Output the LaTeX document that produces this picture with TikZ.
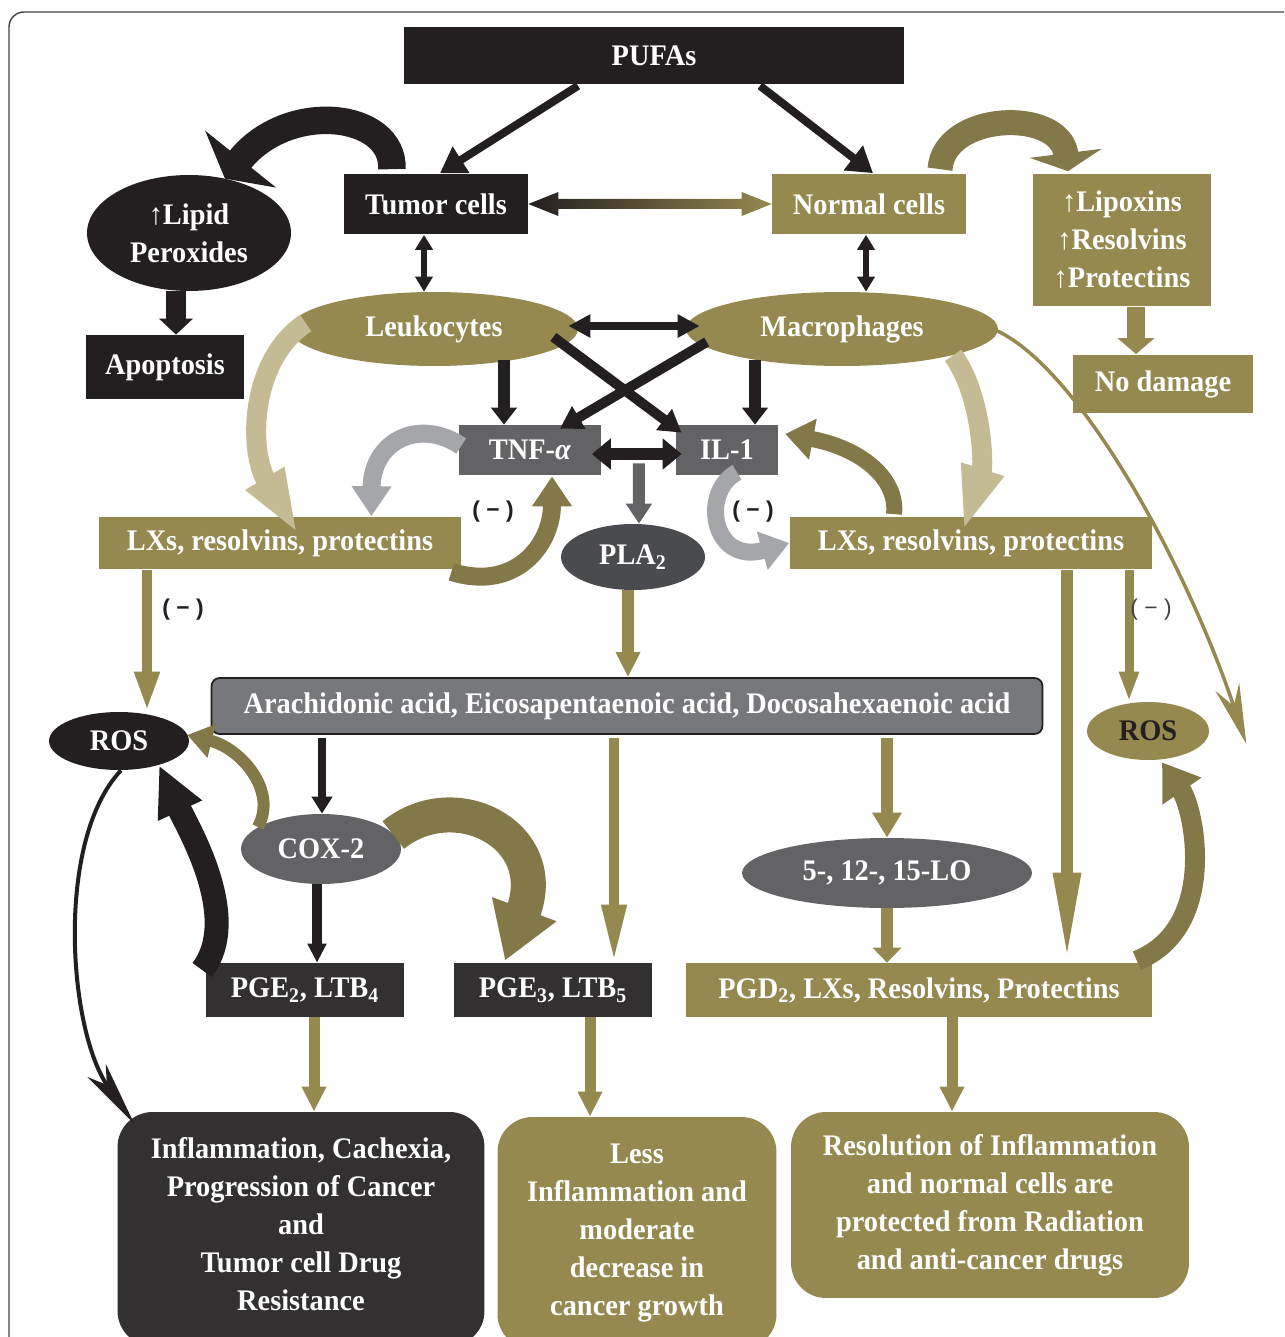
\documentclass[tikz,border=0pt]{standalone}
\usepackage{fontspec}
\setmainfont{Liberation Serif}[FakeStretch=0.95]
\newfontfamily\signfont{Liberation Sans}
\usepackage{tikz}
\usetikzlibrary{shapes.geometric, arrows.meta, calc}
\usepackage{xcolor}
\definecolor{blk}{RGB}{35,31,32}
\definecolor{olv}{RGB}{149,137,80}
\definecolor{olvmid}{RGB}{131,120,72}
\definecolor{beige}{RGB}{196,187,148}
\definecolor{greybox}{RGB}{99,99,101}
\definecolor{plagrey}{RGB}{74,75,78}
\definecolor{acidgrey}{RGB}{119,120,124}
\definecolor{pgebox}{RGB}{50,48,49}
\definecolor{curvegrey}{RGB}{165,166,170}
\newcommand{\boxfont}{\fontsize{17}{21.6}\selectfont\bfseries}

\tikzset{
  box/.style={rectangle, inner sep=0pt, text=white, font=\boxfont, align=center},
  oval/.style={box, ellipse},
  endbox/.style={box, rounded corners=0.7cm},
  sign/.style={font={\signfont\fontsize{13}{15}\selectfont\bfseries}, text=blk, inner sep=0pt},
  blkarr/.style={draw=blk, line width=0.16cm, -{Triangle[length=0.5cm,width=0.6cm]}},
  blkdbl/.style={draw=blk, line width=0.13cm, {Triangle[length=0.3cm,width=0.34cm]}-{Triangle[length=0.3cm,width=0.34cm]}},
  olarr/.style={draw=olv, line width=0.22cm, -{Triangle[length=0.5cm,width=0.46cm]}}
}

\begin{document}
\begin{tikzpicture}[x=0.02cm, y=-0.02cm]
\useasboundingbox (0,0) rectangle (1284,1337);
\clip (0,0) rectangle (1284,1337);
\draw[black!75, line width=0.8pt, rounded corners=0.3cm] (9,12) rectangle (1320,1380);

% top row
\node[box, fill=blk, minimum width=10cm, minimum height=1.14cm] (pufa) at (654,56) {PUFAs};
\node[box, fill=blk, minimum width=3.68cm, minimum height=1.22cm] (tumor) at (436,204) {Tumor cells};
\node[box, fill=olv, minimum width=3.88cm, minimum height=1.22cm] (normal) at (869,204) {Normal cells};
\node[box, fill=olv, minimum width=3.56cm, minimum height=2.66cm] (lipox) at (1122,240) {↑Lipoxins\\↑Resolvins\\↑Protectins};
\node[box, fill=olv, minimum width=3.6cm, minimum height=1.18cm] (nodmg) at (1163,384) {No damage};
\node[oval, fill=blk, minimum width=4.08cm, minimum height=2.32cm] (lipid) at (189,233) {↑Lipid\\Peroxides};
\node[box, fill=blk, minimum width=3.16cm, minimum height=1.28cm] (apop) at (165,367) {Apoptosis};

% cells and cytokines
\node[oval, fill=olv, minimum width=5.76cm, minimum height=1.48cm] (leuk) at (434,329) {Leukocytes};
\node[oval, fill=olv, minimum width=6.24cm, minimum height=1.48cm] (macro) at (842,329) {Macrophages};
\node[box, fill=greybox, minimum width=2.86cm, minimum height=1cm] (tnf) at (530,450) {TNF-\textit{α}};
\node[box, fill=greybox, minimum width=2.04cm, minimum height=1cm] (il1) at (727,450) {IL-1};
\node[oval, fill=plagrey, minimum width=2.88cm, minimum height=1.32cm] (pla) at (633,557) {PLA\textsubscript{2}};
\node[box, fill=olv, minimum width=7.24cm, minimum height=1.06cm] (lxl) at (280,543) {LXs, resolvins, protectins};
\node[box, fill=olv, minimum width=7.26cm, minimum height=1.06cm] (lxr) at (971,543) {LXs, resolvins, protectins};

% fatty acids and products
\node[box, fill=acidgrey, draw=blk, line width=1pt, rounded corners=0.16cm, minimum width=16.62cm, minimum height=1.12cm] (acid) at (627,706) {Arachidonic acid, Eicosapentaenoic acid, Docosahexaenoic acid};
\node[oval, fill=blk, minimum width=2.8cm, minimum height=1.16cm] (rosl) at (119,741) {ROS};
\node[oval, fill=olv, text=blk, minimum width=2.44cm, minimum height=1.16cm] (rosr) at (1148,731) {ROS};
\node[oval, fill=greybox, minimum width=3.2cm, minimum height=1.4cm] (cox) at (321,849) {COX-2};
\node[oval, fill=greybox, minimum width=5.8cm, minimum height=1.4cm] (lo) at (887,873) {5-, 12-, 15-LO};
\node[box, fill=pgebox, minimum width=3.98cm, minimum height=1.08cm] (pge2) at (305,990) {PGE\textsubscript{2}, LTB\textsubscript{4}};
\node[box, fill=pgebox, minimum width=3.98cm, minimum height=1.08cm] (pge3) at (553,990) {PGE\textsubscript{3}, LTB\textsubscript{5}};
\node[box, fill=olv, minimum width=9.34cm, minimum height=1.08cm] (pgd) at (919,990) {PGD\textsubscript{2}, LXs, Resolvins, Protectins};

% outcomes
\node[endbox, fill=pgebox, minimum width=7.34cm, minimum height=4.68cm] (infl) at (301,1229) {Inflammation, Cachexia,\\Progression of Cancer\\and\\Tumor cell Drug\\Resistance\\[-16pt]};
\node[endbox, fill=olv, minimum width=5.58cm, minimum height=4.64cm] (less) at (637,1233) {Less\\Inflammation and\\moderate\\decrease in\\cancer growth};
\node[endbox, fill=olv, minimum width=7.96cm, minimum height=3.72cm] (resol) at (990,1205) {Resolution of Inflammation\\and normal cells are\\protected from Radiation\\and anti-cancer drugs};

% straight connectors
\draw[blkarr] ($(pufa.south)+(-76,1)$) -- ($(tumor.north)+(4,0)$);
\draw[blkarr] ($(pufa.south)+(106,1)$) -- ($(normal.north)+(4,0)$);
\shade[left color=blk, right color=olv] (tumor.east) -- ++(30,-12) -- ++(0,7) -- ($(normal.west)+(-30,-5)$) -- ++(0,-7) -- (normal.west) -- ++(-30,12) -- ++(0,-7) -- ($(tumor.east)+(30,5)$) -- ++(0,7) -- cycle;
\draw[blkdbl] ($(tumor.south)+(-12,0)$) -- ($(leuk.north)+(-10,0)$);
\draw[blkdbl] ($(normal.south)+(-3,0)$) -- ($(macro.north)+(24,0)$);
\draw[blkdbl, line width=0.16cm, {Triangle[length=0.44cm,width=0.44cm]}-{Triangle[length=0.44cm,width=0.44cm]}] ($(leuk.east)+(-10,-3)$) -- ($(macro.west)+(14,-3)$);
\draw[blkarr, line width=0.24cm, -{Triangle[length=0.34cm,width=0.5cm]}] ($(leuk.south)+(70,-6)$) -- ($(tnf.north)+(-26,0)$);
\draw[blkarr, line width=0.24cm, -{Triangle[length=0.34cm,width=0.5cm]}] ($(macro.south)+(-87,-6)$) -- ($(il1.north)+(28,0)$);
\draw[blkarr, line width=0.2cm, -{Triangle[length=0.44cm,width=0.5cm]}] ($(leuk.east)+(-25,8)$) -- ($(il1.north west)+(6,8)$);
\draw[blkarr, line width=0.2cm, -{Triangle[length=0.44cm,width=0.5cm]}] ($(macro.west)+(21,13)$) -- ($(tnf.north east)+(-42,4)$);
\draw[blk, line width=0.26cm, {Triangle[length=0.38cm,width=0.6cm]}-{Triangle[length=0.38cm,width=0.6cm]}] ($(tnf.east)+(-10,4)$) -- ($(il1.west)+(6,4)$);
\coordinate (tnfil) at ($(tnf.south east)!0.5!(il1.south west)+(0,-12)$);
\draw[draw=greybox, line width=0.24cm, -{Triangle[length=0.4cm,width=0.5cm]}] (tnfil) -- ($(pla.north)+(6,0)$);
\draw[olarr, line width=0.24cm] ($(pla.south)+(-5,0)$) -- ($(acid.north)+(1,0)$);
\draw[blkarr, line width=0.4cm, -{Triangle[length=0.32cm,width=0.66cm]}] ($(lipid.south)+(-13,0)$) -- ($(apop.north)+(11,0)$);
\draw[olarr, line width=0.36cm, -{Triangle[length=0.32cm,width=0.72cm]}] ($(lipox.south)+(14,0)$) -- ($(nodmg.north)+(-27,0)$);
\draw[olarr, line width=0.2cm, -{Triangle[length=0.8cm,width=0.46cm]}] ($(lxl.south)+(-133,0)$) -- ($(rosl.north)+(28,0)$);
\draw[olarr, line width=0.18cm, -{Triangle[length=0.6cm,width=0.36cm]}] ($(lxr.south)+(158,0)$) -- ($(rosr.north)+(-19,0)$);
\draw[olarr, line width=0.24cm, -{Triangle[length=1.8cm,width=0.5cm]}] ($(lxr.south)+(96,0)$) -- ($(pgd.north)+(148,0)$);
\draw[blkarr, line width=0.17cm, -{Triangle[length=0.34cm,width=0.4cm]}] ($(acid.south)+(-305,3)$) -- ($(cox.north)+(1,0)$);
\draw[olarr, line width=0.2cm, -{Triangle[length=1.16cm,width=0.46cm]}] ($(acid.south)+(-13,3)$) -- ($(pge3.north)+(61,0)$);
\draw[olarr, line width=0.24cm, -{Triangle[length=0.5cm,width=0.56cm]}] ($(acid.south)+(260,3)$) -- (lo.north);
\draw[blkarr, line width=0.2cm, -{Triangle[length=0.38cm,width=0.36cm]}] ($(cox.south)+(-4,0)$) -- ($(pge2.north)+(12,0)$);
\draw[olarr, line width=0.24cm, -{Triangle[length=0.3cm,width=0.56cm]}] (lo.south) -- ($(pgd.north)+(-32,0)$);
\draw[olarr] ($(pge2.south)+(9,0)$) -- ($(infl.north)+(13,0)$);
\draw[olarr] ($(pge3.south)+(37,0)$) -- ($(less.north)+(-47,0)$);
\draw[olarr] ($(pgd.south)+(33,0)$) -- ($(resol.north)+(-38,0)$);

% curved connectors
\draw[blk, line width=0.55cm, -{Triangle[length=0.5cm,width=1.8cm]}] ($(tumor.north)+(-44,-4)$) .. controls (394,112) and (288,100) .. ($(lipid.north)+(36,4)$);
\draw[olvmid, line width=0.5cm, -{Triangle[length=0.36cm,width=1.44cm]}] ($(normal.north)+(71,-4)$) .. controls (944,112) and (1060,108) .. ($(lipox.north)+(-54,-2)$);
\draw[beige, line width=0.4cm, -{Triangle[length=1.3cm,width=0.8cm]}] ($(leuk.west)+(16,-6)$) .. controls (250,360) and (248,450) .. ($(lxl.north)+(18,18)$);
\draw[beige, line width=0.4cm, -{Triangle[length=1.3cm,width=0.8cm]}] ($(macro.south)+(111,-11)$) .. controls (982,395) and (984,465) .. ($(lxr.north)+(-8,15)$);
\draw[curvegrey, line width=0.36cm, -{Triangle[length=0.6cm,width=0.76cm]}] ($(tnf.west)+(3,-4)$) .. controls (420,418) and (372,440) .. ($(lxl.north east)+(-90,0)$);
\draw[olvmid, line width=0.36cm, -{Triangle[length=0.6cm,width=0.76cm]}] ($(lxl.south east)+(-10,2)$) .. controls (515,592) and (552,545) .. ($(tnf.south)+(22,1)$);
\draw[curvegrey, line width=0.34cm, -{Triangle[length=0.56cm,width=0.76cm]}] ($(il1.south)+(10,-3)$) .. controls (700,492) and (712,565) .. (lxr.west);
\draw[olvmid, line width=0.32cm, -{Triangle[length=0.56cm,width=0.8cm]}] ($(lxr.north)+(-77,-2)$) .. controls (898,478) and (860,448) .. ($(il1.east)+(7,-16)$);
\draw[olv, line width=0.07cm, -{Stealth[length=1.2cm,width=0.5cm,inset=0.4cm]}] ($(macro.east)+(-14,-3)$) .. controls (1070,350) and (1185,560) .. ($(rosr.east)+(37,13)$);
\draw[olvmid, line width=0.4cm, -{Triangle[length=0.7cm,width=0.9cm]}] ($(pgd.north east)+(-16,-2)$) .. controls (1218,928) and (1195,810) .. ($(rosr.south)+(14,2)$);
\draw[olvmid, line width=0.24cm, -{Triangle[length=0.5cm,width=0.66cm]}] ($(cox.center)+(-63,-22)$) .. controls (278,790) and (240,748) .. ($(rosl.east)+(-2,-6)$);
\draw[olvmid, line width=0.7cm, -{Triangle[length=1.1cm,width=1.3cm]}] ($(cox.east)+(-8,-14)$) .. controls (455,785) and (552,835) .. ($(pge3.north)+(-48,-2)$);
\draw[blk, line width=0.48cm, -{Triangle[length=1cm,width=0.9cm]}] ($(pge2.west)+(-3,-20)$) .. controls (242,918) and (188,828) .. ($(rosl.south)+(40,-5)$);
\draw[blk, line width=0.08cm, -{Stealth[length=1.3cm,width=0.45cm,inset=0.35cm]}] ($(rosl.south)+(2,0)$) .. controls (55,840) and (68,1030) .. ($(infl.north west)+(17,12)$);

% inhibition marks
\node[sign] (inhA) at (493,512) {( − )};
\node[sign] (inhB) at (753,512) {( − )};
\node[sign] (inhC) at (183,610) {( − )};
\node[sign, font={\signfont\fontsize{13}{15}\selectfont}, text=blk!85] (inhD) at (1151,610) {( − )};
\end{tikzpicture}
\end{document}
